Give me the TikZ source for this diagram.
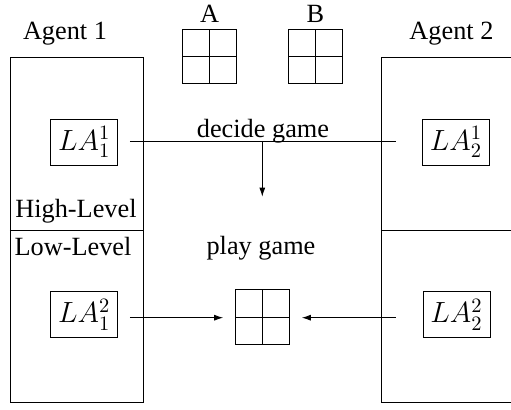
\documentclass[tikz,border=0pt]{standalone}
\usepackage{fix-cm}
\usepackage[no-math]{fontspec}
\setmainfont{Liberation Serif}
\usetikzlibrary{arrows.meta}
\begin{document}
\begin{tikzpicture}[x=0.5pt,y=-0.5pt,
  font=\fontsize{13.15}{15}\selectfont,
  every node/.style={inner sep=0pt, outer sep=0pt},
  thin line/.style={line width=0.45pt},
  labox/.style={draw, thin line, minimum width=33.5pt, minimum height=23pt,
    font=\fontsize{14.6}{17}\selectfont},
  txt/.style={anchor=base},
  wire/.style={thin line},
  arr/.style={thin line, -{Latex[length=4.5pt,width=3pt]}},
  payoff/.style={draw, thin line, minimum size=27.3pt,
    path picture={
      \draw[thin line] (path picture bounding box.north) -- (path picture bounding box.south);
      \draw[thin line] (path picture bounding box.west) -- (path picture bounding box.east);
    }},
]
\useasboundingbox (0,0) rectangle (511,410);

% agent frames
\draw[thin line] (10,57) rectangle (143.7,402);
\draw[thin line] (10,230) -- (143.7,230);
\draw[thin line] (511,57) -- (381.7,57) -- (381.7,402) -- (511,402);
\draw[thin line] (381.7,230) -- (511,230);

% titles and level labels
\node[txt] (ag1) at (65,40) {Agent 1};
\node[txt] (ag2) at (451.5,40) {Agent 2};
\node[txt] (hl) at (76,217.5) {High-Level};
\node[txt] (ll) at (73,255.5) {Low-Level};

% payoff matrices
\node[payoff] (ma) at (209.5,56.5) {};
\node[payoff] (mb) at (315.5,56.5) {};
\node[txt] (la) at (209.5,23) {A};
\node[txt] (lb) at (315.5,23) {B};
\node[payoff] (mp) at (262.5,317.2) {};

% learning agents
\node[labox] (a11) at (84.2,142.2) {$LA_1^1$};
\node[labox] (a21) at (456,142.2) {$LA_2^1$};
\node[labox] (a12) at (84.2,314.7) {$LA_1^2$};
\node[labox] (a22) at (456.5,314.7) {$LA_2^2$};

% high level: decide game
\coordinate (d1) at (130,141.7);
\coordinate (d2) at (396,141.7);
\coordinate (dm) at (262.3,141.7);
\coordinate (dd) at (262.3,196.7);
\draw[wire] (d1) -- (d2);
\draw[arr] (dm) -- (dd);
\node[txt] (dg) at (263,137.7) {decide game};

% low level: play game
\node[txt] (pg) at (261,255) {play game};
\coordinate (p1) at (130,317.7);
\coordinate (p2) at (395.7,317.7);
\draw[arr, shorten >=6pt] (p1) -- (mp.west |- p1);
\draw[arr, shorten >=6pt] (p2) -- (mp.east |- p2);
\end{tikzpicture}
\end{document}
